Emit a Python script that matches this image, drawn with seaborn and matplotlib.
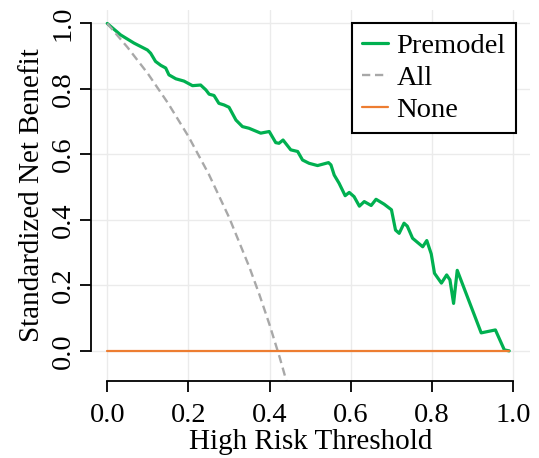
import numpy as np
import pandas as pd
import matplotlib
matplotlib.use("Agg")
import matplotlib.pyplot as plt
import seaborn as sns

# ---- data ----
threshold_model = [0.000, 0.033, 0.066, 0.099, 0.107, 0.119, 0.132, 0.144, 0.152, 0.169,
                   0.189, 0.210, 0.230, 0.243, 0.251, 0.263, 0.275, 0.288, 0.300, 0.317,
                   0.333, 0.349, 0.378, 0.399, 0.415, 0.423, 0.433, 0.452, 0.469, 0.481,
                   0.497, 0.518, 0.545, 0.551, 0.559, 0.571, 0.586, 0.596, 0.608, 0.621,
                   0.633, 0.650, 0.662, 0.682, 0.700, 0.710, 0.719, 0.731, 0.739, 0.752,
                   0.777, 0.787, 0.798, 0.806, 0.823, 0.836, 0.844, 0.853, 0.862, 0.921,
                   0.956, 0.978, 0.990]
benefit_model = [1.000, 0.965, 0.940, 0.919, 0.909, 0.884, 0.872, 0.864, 0.843, 0.831,
                 0.824, 0.810, 0.812, 0.797, 0.784, 0.780, 0.756, 0.751, 0.744, 0.705,
                 0.685, 0.680, 0.665, 0.670, 0.636, 0.634, 0.644, 0.614, 0.609, 0.583,
                 0.573, 0.566, 0.575, 0.568, 0.537, 0.512, 0.474, 0.484, 0.471, 0.442,
                 0.456, 0.444, 0.463, 0.448, 0.431, 0.369, 0.359, 0.390, 0.381, 0.344,
                 0.318, 0.337, 0.296, 0.237, 0.207, 0.232, 0.217, 0.145, 0.246, 0.055,
                 0.064, 0.003, 0.000]

threshold_all = [0.00, 0.05, 0.10, 0.15, 0.20, 0.25, 0.30, 0.35, 0.375, 0.40, 0.425, 0.45]
benefit_all = [1.000, 0.927, 0.847, 0.756, 0.655, 0.540, 0.408, 0.256, 0.171, 0.079, -0.021, -0.130]

threshold_none = [0.00, 0.99]
benefit_none = [0.00, 0.00]

tick_values = [0.0, 0.2, 0.4, 0.6, 0.8, 1.0]
tick_labels = ["0.0", "0.2", "0.4", "0.6", "0.8", "1.0"]

series_names = ["Premodel", "All", "None"]
series_colors = ["#00B050", "#A8A8A8", "#ED7D31"]

# ---- style ----
sns.set_style("white")
plt.rcParams["font.family"] = ["Liberation Serif", "DejaVu Serif"]
plt.rcParams["text.color"] = "black"

fig = plt.figure(figsize=(5.39, 4.58), dpi=100)
ax = fig.add_axes([0.1688, 0.1681, 0.8136, 0.8107])

df_model = pd.DataFrame({"t": threshold_model, "nb": benefit_model})
df_all = pd.DataFrame({"t": threshold_all, "nb": benefit_all})
df_none = pd.DataFrame({"t": threshold_none, "nb": benefit_none})

sns.lineplot(data=df_model, x="t", y="nb", ax=ax, color=series_colors[0], lw=2.3,
             label=series_names[0], sort=False, estimator=None)
sns.lineplot(data=df_all, x="t", y="nb", ax=ax, color=series_colors[1], lw=1.7,
             label=series_names[1], sort=False, estimator=None, linestyle=(0, (3.5, 2)))
sns.lineplot(data=df_none, x="t", y="nb", ax=ax, color=series_colors[2], lw=1.6,
             label=series_names[2], sort=False, estimator=None)

ax.set_xlim(-0.04, 1.04)
ax.set_ylim(-0.092, 1.042)
ax.set_xticks(tick_values)
ax.set_xticklabels(tick_labels)
ax.set_yticks(tick_values)
ax.set_yticklabels(tick_labels)

ax.grid(True, color="#ebebeb", lw=1.0)
ax.set_axisbelow(True)

for s in ["top", "right"]:
    ax.spines[s].set_visible(False)
for s in ["left", "bottom"]:
    ax.spines[s].set_visible(True)
    ax.spines[s].set_color("black")
    ax.spines[s].set_linewidth(1.3)
    ax.spines[s].set_bounds(0, 1)

ax.tick_params(direction="out", length=7.7, width=1.3, labelsize=20.5, color="black",
               labelcolor="black", left=True, bottom=True)
ax.tick_params(axis="x", pad=8.3)
ax.tick_params(axis="y", pad=3.3)
for lab in ax.get_yticklabels():
    lab.set_rotation(90)
    lab.set_va("center")

ax.set_xlabel("High Risk Threshold", fontsize=21, color="black", labelpad=0.7)
ax.set_ylabel("Standardized Net Benefit", fontsize=21, color="black", labelpad=4)

leg = ax.legend(loc="upper right", bbox_to_anchor=(0.969, 0.964), frameon=True,
                fancybox=False, edgecolor="black", framealpha=1, fontsize=20.5,
                handlelength=0.9, handletextpad=0.3, labelspacing=0.2,
                borderpad=0.36, borderaxespad=0, labelcolor="black")
leg.get_frame().set_linewidth(1.5)

fig.savefig("out.png", dpi=100)
